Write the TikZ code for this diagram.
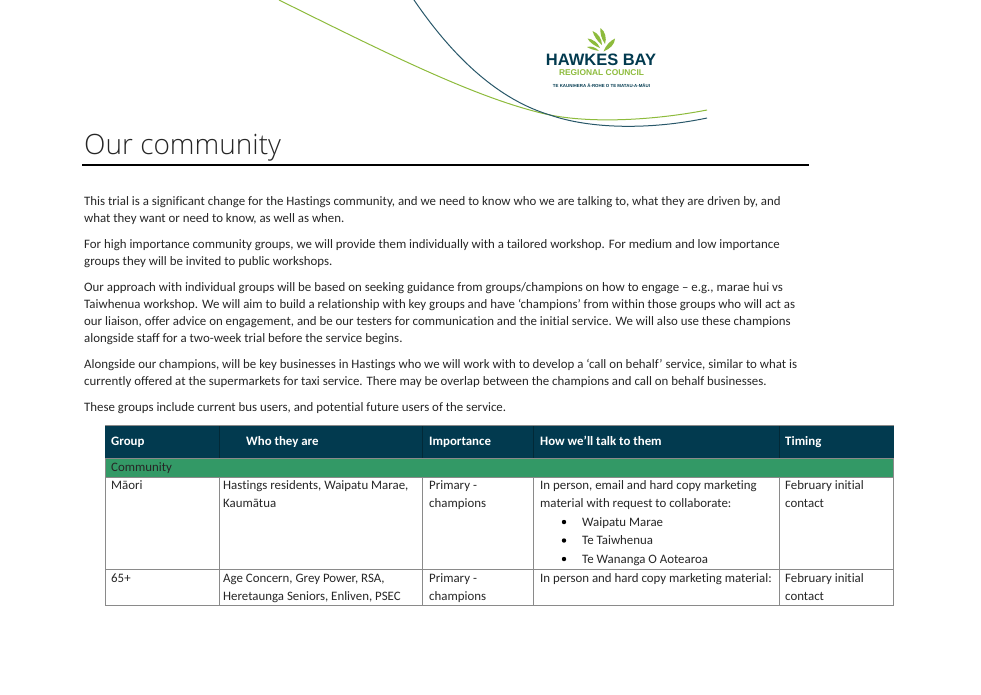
\documentclass[tikz,border=0pt]{standalone}
\usepackage{fontspec}
\usepackage{xcolor}
\setmainfont[Ligatures=NoCommon]{Carlito}
\newfontfamily\titlefont{Open Sans Light}
\newfontfamily\logofont{Liberation Sans}
\definecolor{headblue}{HTML}{023A4F}
\definecolor{rowgreen}{HTML}{339966}
\definecolor{leafgreen}{HTML}{8DBB3C}
\definecolor{gridgrey}{HTML}{8A8A8A}
\tikzset{
  bodytext/.style={anchor=base west,inner sep=0pt,font=\fontsize{12.87}{15}\selectfont,text=black!85},
  headtext/.style={anchor=base west,inner sep=0pt,font=\fontsize{12.87}{15}\selectfont\bfseries,text=white},
  leaf/.style={fill=leafgreen,draw=none},
  gridline/.style={draw=gridgrey,line width=1pt}
}
\begin{document}
\begin{tikzpicture}[x=1pt,y=-1pt]
\useasboundingbox (0,0) rectangle (981,694);
% Curves
\draw[leafgreen,line width=1pt] (279,0) .. controls (390,55) and (480,100) .. (550,115)
  .. controls (590,123) and (650,121) .. (707,110);
\draw[headblue!85,line width=1pt] (414,0) .. controls (455,60) and (500,100) .. (550,115)
  .. controls (590,129) and (650,130) .. (707,118);
% Logo
\fill[leaf] (599,51) .. controls (594,50) and (590,49) .. (587,47) .. controls (591,45.500) and (596,47.500) .. cycle;
\fill[leaf] (600,48) .. controls (595,46) and (590,43) .. (587.500,38.500) .. controls (593,39) and (598,43) .. cycle;
\fill[leaf] (602,45) .. controls (597,41) and (594,36) .. (592.500,31) .. controls (598,33) and (602,39) .. cycle;
\fill[leaf] (605,44) .. controls (601,38) and (600,33) .. (600.500,28) .. controls (605,31) and (607,38) .. cycle;
\fill[leaf] (603.500,51.500) .. controls (606,45) and (610,41) .. (615,38.500) .. controls (615,44) and (610,49) .. cycle;
\node[anchor=base,inner sep=0pt,text=headblue,font=\logofont\fontsize{16.5}{16.5}\selectfont\bfseries] (logoname) at (601,65) {HAWKES BAY};
\node[anchor=base,inner sep=0pt,text=leafgreen,font=\logofont\fontsize{8.4}{8.4}\selectfont\bfseries] (logocouncil) at (601.5,75) {REGIONAL COUNCIL};
\node[anchor=base,inner sep=0pt,text=headblue,font=\logofont\fontsize{4.4}{5}\selectfont\bfseries] (logomaori) at (601.5,87.5) {TE KAUNIHERA Ā-ROHE O TE MATAU-A-MĀUI};
% Title
\node[anchor=base west,inner sep=0pt,text=black!85,font=\titlefont\fontsize{28}{30}\selectfont] (title) at (84,154.500) {Our community};
\draw[black,line width=1.2pt] (82,165) -- (809,165);
% Paragraphs
\node[bodytext] (lineA) at (84,205) {This trial is a significant change for the Hastings community, and we need to know who we are talking to, what they are driven by, and};
\node[bodytext] (lineB) at (84,222) {what they want or need to know, as well as when.};
\node[bodytext] (lineC) at (84,248) {For high importance community groups, we will provide them individually with a tailored workshop. For medium and low importance};
\node[bodytext] (lineD) at (84,265) {groups they will be invited to public workshops.};
\node[bodytext] (lineE) at (84,291) {Our approach with individual groups will be based on seeking guidance from groups/champions on how to engage – e.g., marae hui vs};
\node[bodytext] (lineF) at (84,308.500) {Taiwhenua workshop. We will aim to build a relationship with key groups and have ‘champions’ from within those groups who will act as};
\node[bodytext] (lineG) at (84,325.500) {our liaison, offer advice on engagement, and be our testers for communication and the initial service. We will also use these champions};
\node[bodytext] (lineH) at (84,342.500) {alongside staff for a two-week trial before the service begins.};
\node[bodytext] (lineI) at (84,368) {Alongside our champions, will be key businesses in Hastings who we will work with to develop a ‘call on behalf’ service, similar to what is};
\node[bodytext] (lineJ) at (84,385) {currently offered at the supermarkets for taxi service. There may be overlap between the champions and call on behalf businesses.};
\node[bodytext] (lineK) at (84,411) {These groups include current bus users, and potential future users of the service.};
% Table fills
\fill[headblue] (105,425.500) rectangle (893.800,458);
\fill[rowgreen] (105,458) rectangle (893.800,477);
% Table grid
\draw[gridline] (105,477) -- (893.800,477);
\draw[gridline] (105,569) -- (893.800,569);
\draw[gridline] (105,605.500) -- (893.800,605.500);
\draw[gridline] (105,458) -- (105,605.500);
\draw[gridline] (893.800,458) -- (893.800,605.500);
\draw[gridline] (219,477) -- (219,605.500);
\draw[gridline] (422,477) -- (422,605.500);
\draw[gridline] (533.800,477) -- (533.800,605.500);
\draw[gridline] (779,477) -- (779,605.500);
\draw[headblue!70!black,line width=0.8pt] (219,425.500) -- (219,458);
\draw[headblue!70!black,line width=0.8pt] (422,425.500) -- (422,458);
\draw[headblue!70!black,line width=0.8pt] (533.800,425.500) -- (533.800,458);
\draw[headblue!70!black,line width=0.8pt] (779,425.500) -- (779,458);
\draw[gridgrey,line width=0.8pt] (105,425.500) -- (893.800,425.500);
\draw[gridgrey,line width=0.8pt] (105,458) -- (893.800,458);
% Header
\node[headtext] (headGroup) at (111,445) {Group};
\node[headtext] (headWho) at (246,445) {Who they are};
\node[headtext] (headImp) at (429,445) {Importance};
\node[headtext] (headHow) at (540,445) {How we’ll talk to them};
\node[headtext] (headTime) at (785,445) {Timing};
\node[bodytext] (community) at (111,471) {Community};
% Row Maori
\node[bodytext] (maori) at (111,489) {Māori};
\node[bodytext] (whoA) at (223,489) {Hastings residents, Waipatu Marae,};
\node[bodytext] (whoB) at (223,507) {Kaumātua};
\node[bodytext] (impA) at (429,489) {Primary -};
\node[bodytext] (impB) at (429,507) {champions};
\node[bodytext] (howA) at (540,489) {In person, email and hard copy marketing};
\node[bodytext] (howB) at (540,507) {material with request to collaborate:};
\node[bodytext] (howC) at (582,526) {Waipatu Marae};
\node[bodytext] (howD) at (582,544.500) {Te Taiwhenua};
\node[bodytext] (howE) at (582,563) {Te Wananga O Aotearoa};
\fill[black] (564,522) circle (2.2);
\fill[black] (564,540.500) circle (2.2);
\fill[black] (564,559) circle (2.2);
\node[bodytext] (timeA) at (785,489) {February initial};
\node[bodytext] (timeB) at (785,507) {contact};
% Row 65+
\node[bodytext] (older) at (111,582) {65+};
\node[bodytext] (whoC) at (223,582) {Age Concern, Grey Power, RSA,};
\node[bodytext] (whoD) at (223,600) {Heretaunga Seniors, Enliven, PSEC};
\node[bodytext] (impC) at (429,582) {Primary -};
\node[bodytext] (impD) at (429,600) {champions};
\node[bodytext] (howF) at (540,582) {In person and hard copy marketing material:};
\node[bodytext] (timeC) at (785,582) {February initial};
\node[bodytext] (timeD) at (785,600) {contact};
\end{tikzpicture}
\end{document}
